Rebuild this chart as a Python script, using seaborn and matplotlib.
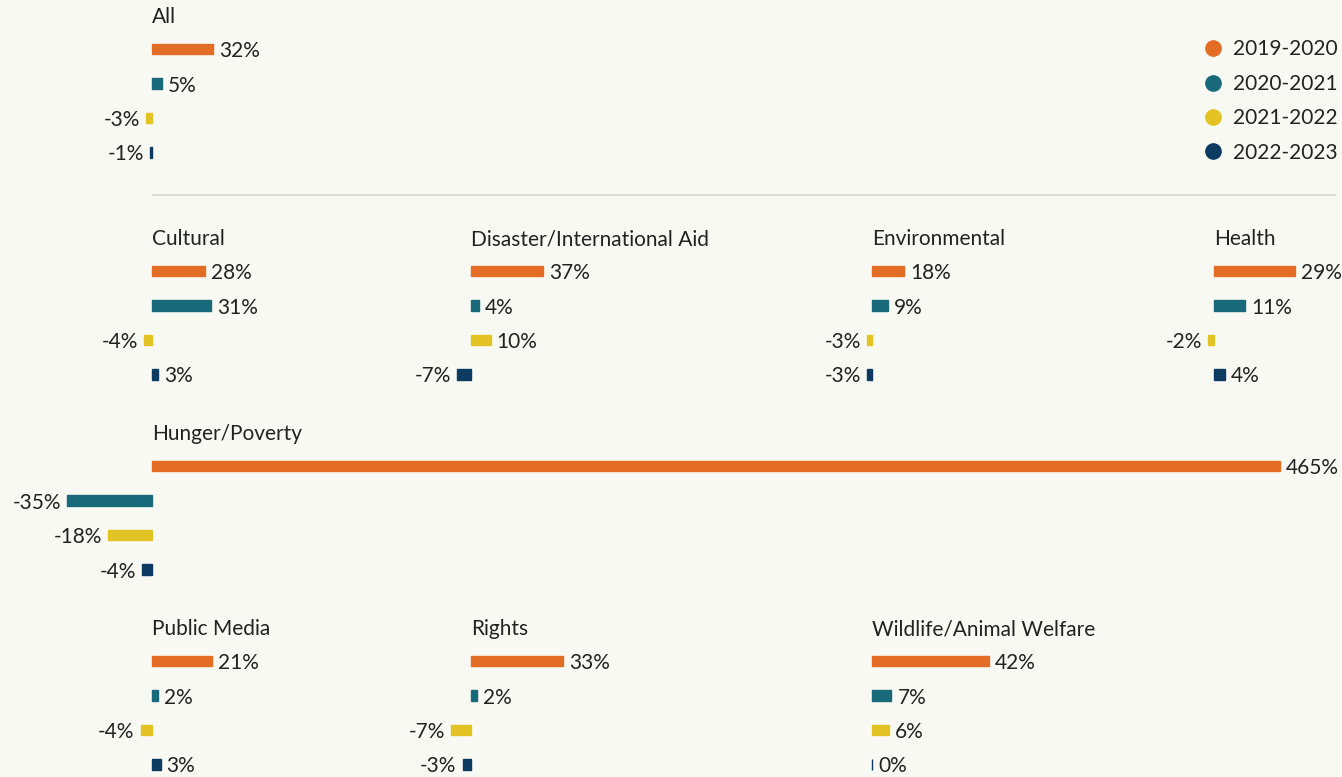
import pandas as pd
import numpy as np
import matplotlib
matplotlib.use('Agg')
import matplotlib.pyplot as plt
import seaborn as sns
from matplotlib.lines import Line2D

periods = ['2019-2020', '2020-2021', '2021-2022', '2022-2023']
colors = ['#E46D26', '#186A7B', '#E3C324', '#0D3A60']

causes = ['All', 'Cultural', 'Disaster/International Aid', 'Environmental', 'Health',
          'Hunger/Poverty', 'Public Media', 'Rights', 'Wildlife/Animal Welfare']
all_vals = [32, 5, -3, -1]
cultural = [28, 31, -4, 3]
disaster = [37, 4, 10, -7]
environmental = [18, 9, -3, -3]
health = [29, 11, -2, 4]
hunger = [465, -35, -18, -4]
public_media = [21, 2, -4, 3]
rights = [33, 2, -7, -3]
wildlife = [42, 7, 6, 0]
values = [all_vals, cultural, disaster, environmental, health, hunger, public_media, rights, wildlife]

# layout in pixels: zero line x, first bar y, pixels per percent point
layout = {
    'All': (152, 49, 1.9),
    'Cultural': (152, 271, 1.9),
    'Disaster/International Aid': (471, 271, 1.95),
    'Environmental': (872, 271, 1.78),
    'Health': (1214, 271, 2.8),
    'Hunger/Poverty': (152, 466, 2.426),
    'Public Media': (152, 661, 2.85),
    'Rights': (471, 661, 2.8),
    'Wildlife/Animal Welfare': (872, 661, 2.78),
}

bg = '#F9F9F4'
txt = '#222222'
W, H = 1342, 777
row = 34.5
fs = 15

sns.set_style('white')
plt.rcParams['font.family'] = ['Lato', 'DejaVu Sans']

fig = plt.figure(figsize=(W / 100, H / 100), dpi=100, facecolor=bg)

for cause, vals in zip(causes, values):
    x0, y0, s = layout[cause]
    left_px, right_px = 160, 1200
    top = y0 - row / 2
    bottom = y0 + 3 * row + row / 2
    ax = fig.add_axes([(x0 - left_px) / W, 1 - bottom / H, (left_px + right_px) / W, (bottom - top) / H])
    ax.patch.set_alpha(0)
    df = pd.DataFrame({'period': periods, 'change': vals})
    sns.barplot(data=df, x='change', y='period', hue='period', palette=colors,
                orient='h', width=0.3, saturation=1, ax=ax, legend=False,
                edgecolor=None, linewidth=0)
    for bars, c in zip(ax.containers, colors):
        for b in bars:
            b.set_edgecolor(c)
            b.set_linewidth(1.0)
    ax.set_xlim(-left_px / s, right_px / s)
    ax.set_ylim(3.5, -0.5)
    ax.set_axis_off()
    for i, v in enumerate(vals):
        off = 6 if v >= 0 else -6
        ax.annotate(f'{v}%', (v, i), xytext=(off, 0), textcoords='offset pixels',
                    ha='left' if v >= 0 else 'right', va='center_baseline',
                    fontsize=fs, color=txt, annotation_clip=False)
    ax.text(0, -0.74, cause, ha='left', va='baseline', fontsize=fs, color=txt)

# separator under the All panel
fig.add_artist(Line2D([152 / W, 1336 / W], [1 - 195 / H, 1 - 195 / H],
                      color='#D9D9D4', linewidth=1.2, transform=fig.transFigure))

handles = [Line2D([], [], marker='o', linestyle='', color=c, markersize=11) for c in colors]
fig.legend(handles, periods, loc='center left', bbox_to_anchor=(1203 / W, 1 - 101 / H),
           frameon=False, fontsize=fs, handlelength=0.95, handletextpad=0.5,
           borderpad=0, borderaxespad=0, labelspacing=0.69, labelcolor=txt)

fig.savefig('out.png', dpi=100, facecolor=bg)
